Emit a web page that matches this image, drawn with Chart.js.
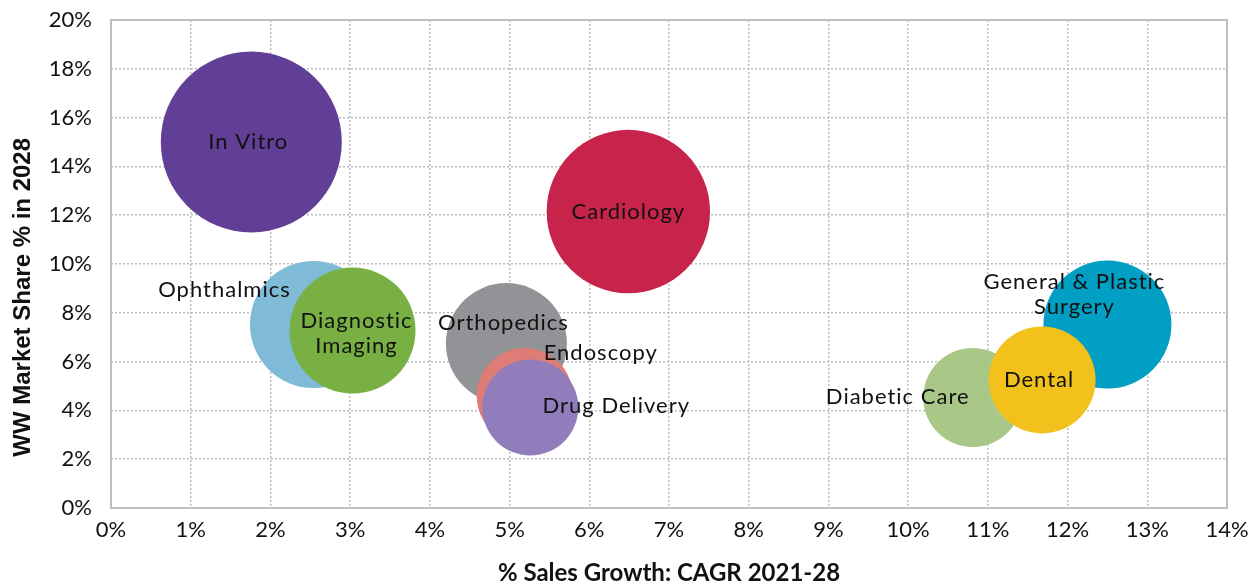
<!DOCTYPE html>
<html>
<head>
<meta charset="utf-8">
<script src="https://cdn.jsdelivr.net/npm/chart.js@4.4.1/dist/chart.umd.min.js"></script>
<style>
  html, body { margin: 0; padding: 0; background: #ffffff; }
  #wrap { width: 1255px; height: 588px; position: relative; }
</style>
</head>
<body>
<div id="wrap"><canvas id="c" width="1255" height="588"></canvas></div>
<script>
// ---- Data ----
const categories = ['In Vitro', 'Cardiology', 'Ophthalmics', 'Diagnostic Imaging', 'Orthopedics',
                    'Endoscopy', 'Drug Delivery', 'Diabetic Care', 'General & Plastic Surgery', 'Dental'];
const salesGrowthCAGR = [1.76, 6.49, 2.54, 3.03, 4.96, 5.19, 5.26, 10.81, 12.50, 11.68];   // % x
const marketShare2028 = [15.00, 12.15, 7.52, 7.27, 6.74, 4.59, 4.12, 4.53, 7.52, 5.25];    // % y
const bubbleSize = [90.5, 81.7, 63.5, 63, 60.5, 48, 48, 49.5, 64, 53.5];                   // radius
const xTicks = [0,1,2,3,4,5,6,7,8,9,10,11,12,13,14];
const yTicks = [0,2,4,6,8,10,12,14,16,18,20];

// ---- Styles ----
const colors = ['#623F96', '#C8234A', '#7FBAD6', '#78B043', '#929396',
                '#DE7C76', '#917DBC', '#A9C787', '#009FC3', '#F2C11C'];
const labelLines = {
  'Diagnostic Imaging': ['Diagnostic', 'Imaging'],
  'General & Plastic Surgery': ['General & Plastic', 'Surgery']
};
const labelOffsets = [[-3,0],[0,0],[-89,-35],[4,3],[-3,-21],[76,-43],[86,-2],[-75,-1],[-33,-30],[-3,0]];

const FONT = 'Lato, "Open Sans", sans-serif';

const bubbleLabels = {
  id: 'bubbleLabels',
  afterDatasetsDraw(chart) {
    const ctx = chart.ctx;
    const meta = chart.getDatasetMeta(0);
    ctx.save();
    ctx.fillStyle = '#111111';
    ctx.font = '22px ' + FONT;
    if ('letterSpacing' in ctx) ctx.letterSpacing = '1px';
    ctx.textAlign = 'center';
    ctx.textBaseline = 'middle';
    meta.data.forEach((pt, i) => {
      const name = categories[i];
      const lines = labelLines[name] || [name];
      const off = labelOffsets[i];
      const lh = 25;
      const startY = pt.y + off[1] - (lines.length - 1) * lh / 2;
      lines.forEach((ln, k) => ctx.fillText(ln, pt.x + off[0], startY + k * lh));
    });
    ctx.restore();
  }
};

const plotBorder = {
  id: 'plotBorder',
  beforeDatasetsDraw(chart) {
    const {ctx, chartArea: a} = chart;
    ctx.save();
    ctx.strokeStyle = '#BFBFBF';
    ctx.lineWidth = 2;
    ctx.setLineDash([]);
    ctx.strokeRect(a.left, a.top, a.right - a.left, a.bottom - a.top);
    ctx.restore();
  }
};

const points = categories.map((c, i) => ({ x: salesGrowthCAGR[i], y: marketShare2028[i], r: bubbleSize[i] }));

new Chart(document.getElementById('c'), {
  type: 'bubble',
  data: {
    datasets: [{
      label: 'Segments',
      data: points,
      backgroundColor: colors,
      borderWidth: 0,
      hoverBorderWidth: 0
    }]
  },
  options: {
    responsive: false,
    animation: false,
    events: [],
    layout: { autoPadding: false, padding: { top: 20, right: 28, left: 0, bottom: 0 } },
    plugins: {
      legend: { display: false },
      tooltip: { enabled: false }
    },
    scales: {
      x: {
        type: 'linear',
        min: 0, max: 14,
        afterBuildTicks: s => { s.ticks = xTicks.map(v => ({ value: v })); },
        afterFit: s => { s.height = 80; s.paddingLeft = 0; s.paddingRight = 0; },
        ticks: {
          callback: v => v + '%',
          color: '#111111',
          font: { family: FONT, size: 22 },
          padding: 9,
          maxRotation: 0
        },
        grid: { color: '#BDBDBD', lineWidth: 1.5, drawTicks: false },
        border: { display: false, dash: [2, 2] },
        title: {
          display: true,
          text: '% Sales Growth: CAGR 2021-28',
          color: '#111111',
          font: { family: FONT, size: 24, weight: 'bold' },
          padding: { top: 0, bottom: 0 }
        }
      },
      y: {
        type: 'linear',
        min: 0, max: 20,
        afterBuildTicks: s => { s.ticks = yTicks.map(v => ({ value: v })); },
        afterFit: s => { s.width = 111; s.paddingTop = 0; s.paddingBottom = 0; },
        ticks: {
          callback: v => v + '%',
          color: '#111111',
          font: { family: FONT, size: 22 },
          padding: 19
        },
        grid: { color: '#BDBDBD', lineWidth: 1.5, drawTicks: false },
        border: { display: false, dash: [2, 2] },
        title: {
          display: true,
          text: 'WW Market Share % in 2028' + '\u00A0'.repeat(10),
          color: '#111111',
          font: { family: '"Liberation Sans", Arial, sans-serif', size: 24, weight: 'bold' },
          padding: { top: 9, bottom: 0 }
        }
      }
    }
  },
  plugins: [plotBorder, bubbleLabels]
});
</script>
</body>
</html>
